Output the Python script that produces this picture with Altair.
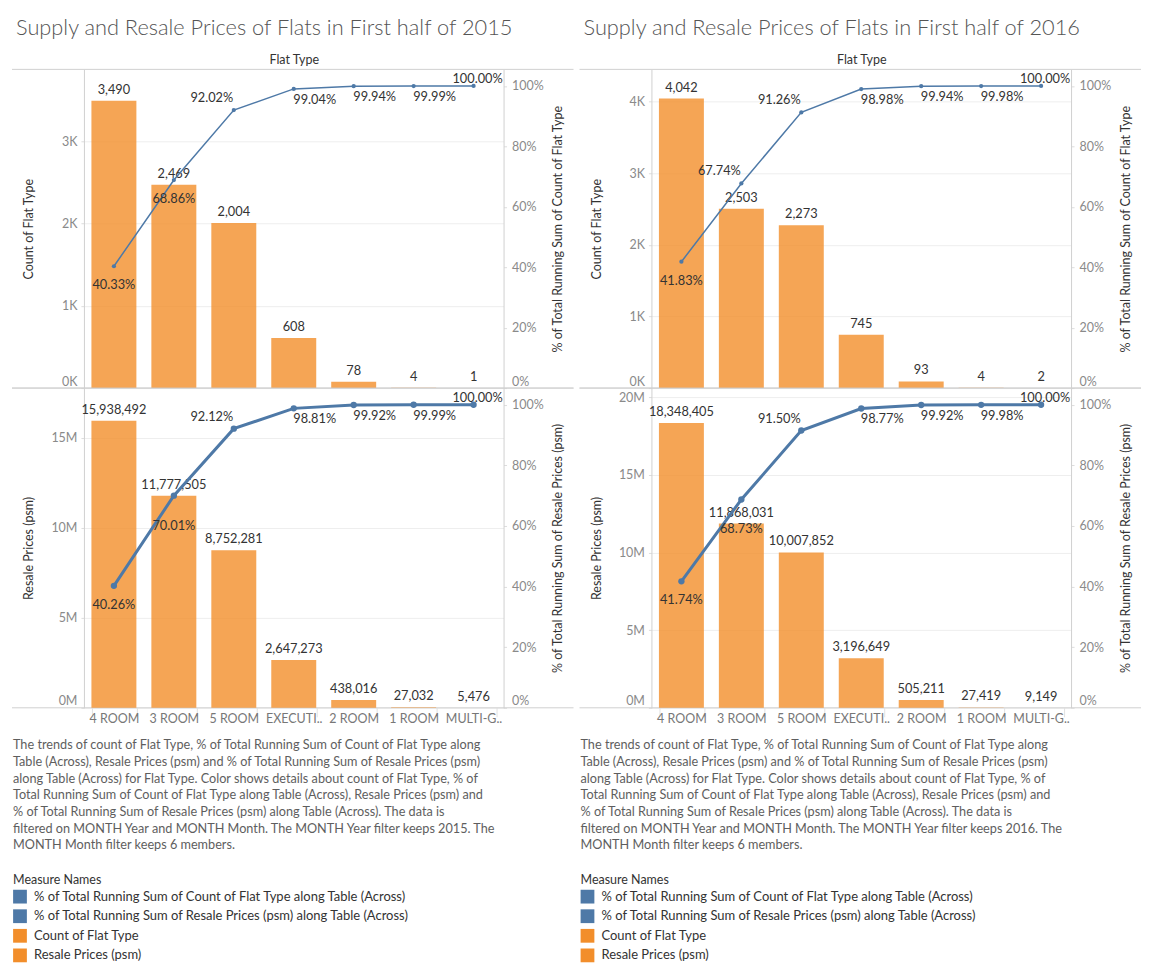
import altair as alt
import pandas as pd

flat_types = ["4 ROOM", "3 ROOM", "5 ROOM", "EXECUTIVE", "2 ROOM", "1 ROOM", "MULTI-GENERATION"]

count_2015 = [3490, 2469, 2004, 608, 78, 4, 1]
count_pct_2015 = [40.33, 68.86, 92.02, 99.04, 99.94, 99.99, 100.00]
resale_2015 = [15938492, 11777505, 8752281, 2647273, 438016, 27032, 5476]
resale_pct_2015 = [40.26, 70.01, 92.12, 98.81, 99.92, 99.99, 100.00]

count_2016 = [4042, 2503, 2273, 745, 93, 4, 2]
count_pct_2016 = [41.83, 67.74, 91.26, 98.98, 99.94, 99.98, 100.00]
resale_2016 = [18348405, 11868031, 10007852, 3196649, 505211, 27419, 9149]
resale_pct_2016 = [41.74, 68.73, 91.50, 98.77, 99.92, 99.98, 100.00]

count_ticks_2015 = [0, 1000, 2000, 3000]
count_ticks_2016 = [0, 1000, 2000, 3000, 4000]
resale_ticks_2015 = [0, 5000000, 10000000, 15000000]
resale_ticks_2016 = [0, 5000000, 10000000, 15000000, 20000000]
pct_ticks = [0, 0.2, 0.4, 0.6, 0.8, 1.0]

measure_names = [
    "% of Total Running Sum of Count of Flat Type along Table (Across)",
    "% of Total Running Sum of Resale Prices (psm) along Table (Across)",
    "Count of Flat Type",
    "Resale Prices (psm)",
]

BLUE = "#4E79A7"
ORANGE = "#F28E2B"
measure_colors = [BLUE, BLUE, ORANGE, ORANGE]

W = 420
H1 = 319
H2 = 320


def caption(year):
    return [
        "The trends of count of Flat Type, % of Total Running Sum of Count of Flat Type along",
        "Table (Across), Resale Prices (psm) and % of Total Running Sum of Resale Prices (psm)",
        "along Table (Across) for Flat Type.  Color shows details about count of Flat Type, % of",
        "Total Running Sum of Count of Flat Type along Table (Across), Resale Prices (psm) and",
        "% of Total Running Sum of Resale Prices (psm) along Table (Across). The data is",
        f"filtered on MONTH Year and MONTH Month. The MONTH Year filter keeps {year}. The",
        "MONTH Month filter keeps 6 members.",
    ]


# label offsets (dx, dy) for the percentage labels
PLACE = {
    "below": (0, 19),
    "below_far": (0, 30),
    "above_left": (-22, -12),
    "below_right": (21, 11),
    "above": (4, -7),
}

AX_LABEL = "#8a8a8a"
AX_LINE = "#d0d0d0"
TXT = "#333333"


def make_row(values, pcts, ydom, yticks, unit, ytitle, pcttitle, placement, top, H,
             line_w, pt_size, bar_measure=None, cap=None):
    df = pd.DataFrame({"flat": flat_types, "value": values,
                       "pct": [p / 100 for p in pcts]})
    if bar_measure:
        df["measure"] = bar_measure
    base = alt.Chart(df)
    one = pd.DataFrame({"k": [0]})

    if top:
        xaxis = alt.Axis(orient="top", title="Flat Type", labels=False, ticks=False,
                         domain=False, titlePadding=3, titleFontSize=12.5,
                         titleColor=TXT, titleFontWeight="normal")
    else:
        xaxis = alt.Axis(orient="bottom", title=None, labelAngle=0, labelColor="#777777",
                         labelFontSize=12.5,
                         labelExpr="length(datum.label) > 7 ? substring(datum.label, 0, 7) + '..' : datum.label",
                         domain=False, ticks=True, tickBand="extent", tickSize=9,
                         tickColor="#e2e2e2", labelPadding=-4)
    x = alt.X("flat:N", sort=flat_types,
              scale=alt.Scale(paddingInner=0.25, paddingOuter=0.125), axis=xaxis)

    div = 1000 if unit == "K" else 1000000
    yleft = alt.Y(
        "value:Q",
        scale=alt.Scale(domain=ydom, nice=False, zero=True),
        axis=alt.Axis(values=yticks, labelExpr=f"format(datum.value / {div}, 'd') + '{unit}'",
                      title=ytitle, titleX=-55, titleY=H / 2, titleAngle=270,
                      titleBaseline="middle", titleAlign="center",
                      titleColor=TXT, titleFontWeight="normal", titleFontSize=12.5,
                      labelColor=AX_LABEL, labelFontSize=12.5, labelPadding=4,
                      tickSize=3, tickColor="#dddddd", domainColor=AX_LINE,
                      grid=True, gridColor="#eeeeee", labelFlush=True),
    )
    yright = alt.Y(
        "pct:Q",
        scale=alt.Scale(domain=[0, 1.055], nice=False, zero=True),
        axis=alt.Axis(orient="right", values=pct_ticks, format=".0%", title=pcttitle,
                      titleX=54, titleY=H / 2, titleAngle=270, titleBaseline="middle",
                      titleAlign="center", titleColor=TXT, titleFontWeight="normal",
                      titleFontSize=12.5, labelColor=AX_LABEL, labelFontSize=12.5,
                      labelPadding=5, tickSize=3, tickColor="#dddddd",
                      domainColor=AX_LINE, grid=False, labelFlush=True),
    )

    rule_top = alt.Chart(one).mark_rule(color=AX_LINE, strokeWidth=1).encode(
        x=alt.value(-72), x2=alt.value(W + 70), y=alt.value(0))
    rule_bot = alt.Chart(one).mark_rule(color=AX_LINE, strokeWidth=1).encode(
        x=alt.value(-72), x2=alt.value(W + 70), y=alt.value(H))

    if bar_measure:
        bars = base.mark_bar(opacity=0.8).encode(
            x=x, y=yleft,
            color=alt.Color("measure:N",
                            scale=alt.Scale(domain=measure_names, range=measure_colors),
                            legend=alt.Legend(orient="none", legendX=-71, legendY=805,
                                              title="Measure Names", titleFontSize=12.5,
                                              titleFontWeight="normal", titleColor=TXT,
                                              titlePadding=3.5, labelFontSize=13,
                                              labelColor=TXT, labelLimit=600, labelOffset=7,
                                              symbolType="square", symbolSize=190,
                                              symbolOpacity=1, symbolStrokeWidth=0,
                                              rowPadding=5.6, direction="vertical")))
    else:
        bars = base.mark_bar(opacity=0.8, color=ORANGE).encode(x=x, y=yleft)

    bar_labels = base.mark_text(fontSize=12.8, color=TXT, dy=-11, baseline="middle").encode(
        x=x, y=yleft, text=alt.Text("value:Q", format=",d"))

    left_layers = [rule_top, rule_bot, bars, bar_labels]
    if cap:
        cap_layer = alt.Chart(one).mark_text(align="left", baseline="top", fontSize=12.7,
                                             color="#5e5e5e", lineHeight=16.7).encode(
            x=alt.value(-71), y=alt.value(H + 31.5), text=alt.value(cap))
        left_layers.append(cap_layer)

    line = base.mark_line(color=BLUE, strokeWidth=line_w,
                          point=alt.OverlayMarkDef(color=BLUE, size=pt_size, filled=True,
                                                   opacity=1)).encode(x=x, y=yright)
    right_layers = [line]
    for grp, (dx, dy) in PLACE.items():
        members = [f for f, g in zip(flat_types, placement) if g == grp]
        if not members:
            continue
        right_layers.append(
            base.transform_filter(alt.FieldOneOfPredicate(field="flat", oneOf=members))
            .mark_text(fontSize=12.8, color=TXT, dx=dx, dy=dy, baseline="middle")
            .encode(x=x, y=yright, text=alt.Text("pct:Q", format=".2%")))

    return alt.layer(alt.layer(*left_layers), alt.layer(*right_layers)).resolve_scale(
        y="independent").properties(width=W, height=H)


def panel(year, counts, cpcts, ctick, cdom, resale, rpcts, rtick, rdom, cplace, rplace):
    r1 = make_row(counts, cpcts, cdom, ctick, "K", "Count of Flat Type",
                  "% of Total Running Sum of Count of Flat Type", cplace, True, H1, 1.5, 18)
    r2 = make_row(resale, rpcts, rdom, rtick, "M", "Resale Prices (psm)",
                  "% of Total Running Sum of Resale Prices (psm)", rplace, False, H2, 3, 40,
                  bar_measure="Resale Prices (psm)", cap=caption(year))
    return alt.vconcat(r1, r2, spacing=0, bounds="flush",
                       title=alt.TitleParams(
                           text=f"Supply and Resale Prices of Flats in First half of {year}",
                           anchor="start", frame="group", dx=-68, fontSize=21.8, font="Lato",
                           fontWeight=300, color="#555555", offset=14))


place_c15 = ["below", "below", "above_left", "below_right", "below_right", "below_right", "above"]
place_r15 = ["below", "below_far", "above_left", "below_right", "below_right", "below_right", "above"]
place_c16 = ["below", "above_left", "above_left", "below_right", "below_right", "below_right", "above"]
place_r16 = ["below", "below_far", "above_left", "below_right", "below_right", "below_right", "above"]

p15 = panel(2015, count_2015, count_pct_2015, count_ticks_2015, [0, 3870],
            resale_2015, resale_pct_2015, resale_ticks_2015, [0, 17750000], place_c15, place_r15)
p16 = panel(2016, count_2016, count_pct_2016, count_ticks_2016, [0, 4450],
            resale_2016, resale_pct_2016, resale_ticks_2016, [0, 20600000], place_c16, place_r16)

chart = alt.hconcat(p15, p16, spacing=4).resolve_scale(
    color="independent").configure(
    font="Lato", padding={"left": 3, "top": 9, "right": 0, "bottom": 0}
).configure_view(stroke=None)

chart.save("out.html", embed_options={"renderer": "svg", "actions": False})
